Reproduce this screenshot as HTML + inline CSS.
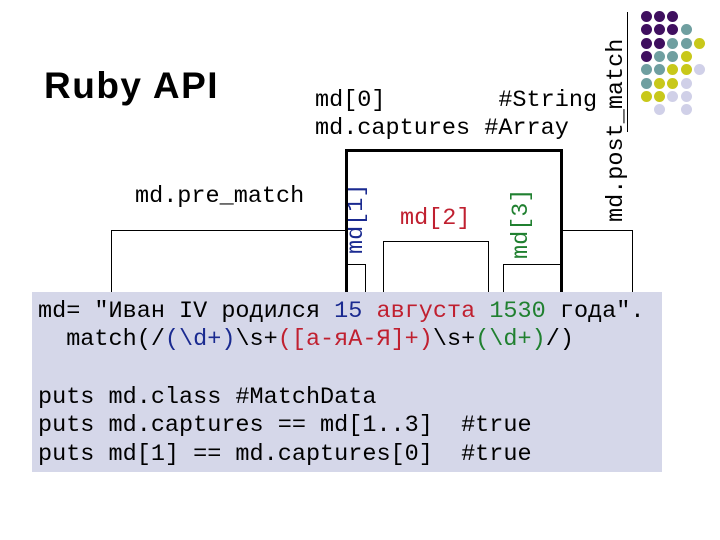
<!DOCTYPE html>
<html><head><meta charset="utf-8"><style>
body{margin:0;width:720px;height:540px;background:#fff;position:relative;overflow:hidden;font-family:"Liberation Mono","DejaVu Sans Mono",monospace}
.a{position:absolute;white-space:pre;font-size:23.5px;line-height:1}
.l{position:absolute;background:#000}
.d{position:absolute;width:11px;height:11px;border-radius:50%}
.v{position:absolute;white-space:pre;font-size:23.5px;line-height:1;transform:rotate(-90deg);transform-origin:0 0}
</style></head><body>
<div class="a" style="left:44px;top:67px;font-family:'Liberation Sans',sans-serif;font-weight:bold;font-size:37px;letter-spacing:1.5px">Ruby API</div>
<div class="a" style="left:315px;top:89px">md[0]        #String</div>
<div class="a" style="left:315px;top:117px">md.captures #Array</div>
<div class="a" style="left:135px;top:185px">md.pre_match</div>
<div class="a" style="left:400px;top:207px;color:#c02030">md[2]</div>
<div class="v" style="left:345px;top:254px;color:#1a2a90">md[1]</div>
<div class="v" style="left:510px;top:259px;color:#208030">md[3]</div>
<div class="v" style="left:605px;top:222px">md.post_match</div>
<div class="l" style="left:111px;top:230px;width:235px;height:1px"></div>
<div class="l" style="left:111px;top:230px;width:1px;height:62px"></div>
<div class="l" style="left:346px;top:149px;width:216px;height:3px"></div>
<div class="l" style="left:345px;top:149px;width:3px;height:143px"></div>
<div class="l" style="left:560px;top:149px;width:3px;height:143px"></div>
<div class="l" style="left:346px;top:264px;width:19px;height:1px"></div>
<div class="l" style="left:365px;top:264px;width:1px;height:28px"></div>
<div class="l" style="left:383px;top:241px;width:106px;height:1px"></div>
<div class="l" style="left:383px;top:241px;width:1px;height:51px"></div>
<div class="l" style="left:488px;top:241px;width:1px;height:51px"></div>
<div class="l" style="left:503px;top:264px;width:58px;height:1px"></div>
<div class="l" style="left:503px;top:264px;width:1px;height:28px"></div>
<div class="l" style="left:562px;top:230px;width:70px;height:1px"></div>
<div class="l" style="left:632px;top:230px;width:1px;height:62px"></div>
<div class="l" style="left:627px;top:12px;width:1px;height:120px"></div>
<div style="position:absolute;left:32px;top:292px;width:630px;height:180px;background:#d5d7e9"></div>
<div class="a" style="left:38px;top:300px">md= "Иван IV родился <span style="color:#1a2a90">15</span> <span style="color:#c02030">августа</span> <span style="color:#208030">1530</span> года".</div>
<div class="a" style="left:38px;top:328px">  match(/<span style="color:#1a2a90">(\d+)</span>\s+<span style="color:#c02030">([а-яА-Я]+)</span>\s+<span style="color:#208030">(\d+)</span>/)</div>
<div class="a" style="left:38px;top:386px">puts md.class #MatchData</div>
<div class="a" style="left:38px;top:414px">puts md.captures == md[1..3]  #true</div>
<div class="a" style="left:38px;top:443px">puts md[1] == md.captures[0]  #true</div>
<div id="dots"></div>
<script>
var P="#3f0f5f",T="#6f9fa0",Y="#c8c81a",L="#d0d0e8";
var g=[[P,P,P],[P,P,P,T],[P,P,T,T,Y],[P,T,T,Y],[T,T,Y,Y,L],[T,Y,Y,L],[Y,Y,L,L],[null,L,null,L]];
var h="";for(var r=0;r<g.length;r++)for(var c=0;c<g[r].length;c++)if(g[r][c])h+='<div class="d" style="left:'+(641+c*13.2)+'px;top:'+(11+r*13.3)+'px;background:'+g[r][c]+'"></div>';
document.getElementById("dots").innerHTML=h;
</script>
</body></html>
